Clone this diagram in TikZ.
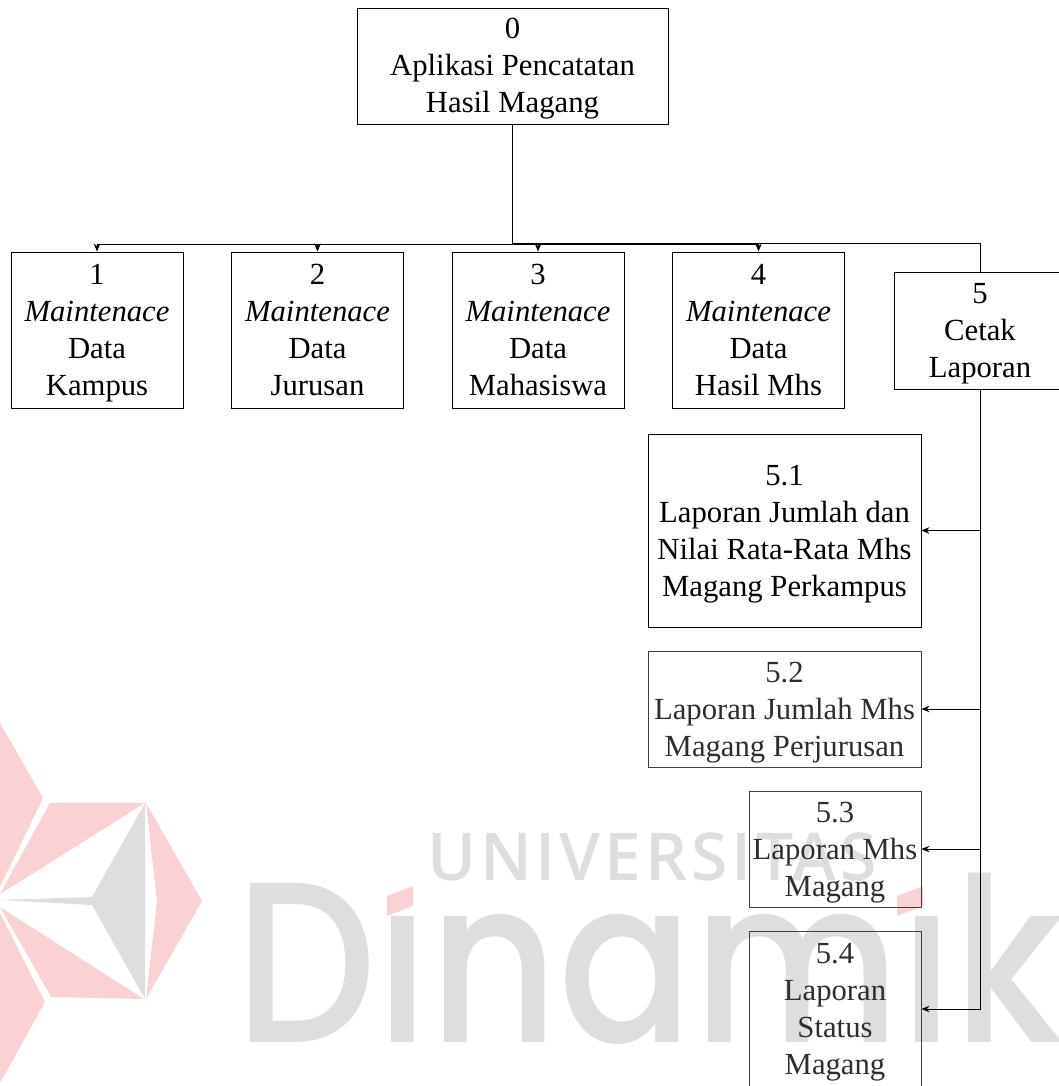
\documentclass[tikz,border=0pt]{standalone}
\usepackage{fontspec}
\setmainfont{Liberation Serif}
\newfontfamily\markfont[FakeStretch=0.87]{Poppins Medium}
\newfontfamily\subfont[LetterSpace=6]{Open Sans Semibold}
\definecolor{markgray}{HTML}{DEDEDE}
\definecolor{markpink}{HTML}{FAD2D4}
\usetikzlibrary{arrows.meta}
\newcommand{\linestrut}{\rule[-8.5pt]{0pt}{37pt}}
\tikzset{
  box/.style={draw, line width=0.9pt, align=center, inner sep=0pt, font=\fontsize{30.7}{37}\selectfont},
  faded/.style={text=black!82, draw=black!75},
  link/.style={line width=0.9pt, -{Stealth[length=8pt,width=6.5pt]}},
  wm/.style={text=markgray, inner sep=0pt, anchor=base west}
}
\begin{document}
\begin{tikzpicture}[x=1pt,y=-1pt]
      \useasboundingbox (0,0) rectangle (1059,1086);
      % watermark
      \fill[markpink] (146,803) -- (202,901) -- (146,999) -- (157,901) -- cycle;
      \fill[markpink] (50,803) -- (145,803) -- (0,894) -- cycle;
      \fill[markpink] (51,997) -- (144,999) -- (0,907) -- cycle;
      \fill[markpink] (0,723) -- (43,798) -- (0,887) -- cycle;
      \fill[markpink] (0,913) -- (45,1002) -- (0,1083) -- cycle;
      \fill[markgray] (145,803) -- (145,999) -- (92,905) -- (0,900) -- (92,897) -- cycle;
      \node[wm, font=\markfont\fontsize{229}{229}\selectfont] (dinamika) at (235,1042) {D\char"0131 nam\char"0131 ka};
      \node[wm, font=\subfont\fontsize{66}{66}\selectfont] (universitas) at (427,880) {UNIVERSITAS};
      \fill[markpink] (387,896) -- (413,886) -- (413,906) -- (387,916) -- cycle;
      \fill[markpink] (897,896) -- (923,886) -- (923,906) -- (897,916) -- cycle;
      % boxes
      \node[box, minimum width=311pt, minimum height=116pt] (0) at (512.5,66) {\linestrut 0\\Aplikasi Pencatatan\\\linestrut Hasil Magang};
      \node[box, minimum width=172pt, minimum height=156pt] (1) at (97,330) {\linestrut 1\\\textit{Maintenace}\\Data\\\linestrut Kampus};
      \node[box, minimum width=172pt, minimum height=156pt] (2) at (317.5,330) {\linestrut 2\\\textit{Maintenace}\\Data\\\linestrut Jurusan};
      \node[box, minimum width=172pt, minimum height=156pt] (3) at (538,330) {\linestrut 3\\\textit{Maintenace}\\Data\\\linestrut Mahasiswa};
      \node[box, minimum width=172pt, minimum height=156pt] (4) at (758.5,330) {\linestrut 4\\\textit{Maintenace}\\Data\\\linestrut Hasil Mhs};
      \node[box, minimum width=172pt, minimum height=117pt] (5) at (980,330.5) {\linestrut 5\\Cetak\\\linestrut Laporan};
      \node[box, minimum width=273pt, minimum height=193pt] (51) at (784.5,530.5) {\linestrut 5.1\\Laporan Jumlah dan\\Nilai Rata-Rata Mhs\\\linestrut Magang Perkampus};
      \node[box, faded, minimum width=273pt, minimum height=116pt] (52) at (784.5,709) {\linestrut 5.2\\Laporan Jumlah Mhs\\\linestrut Magang Perjurusan};
      \node[box, faded, minimum width=172pt, minimum height=116pt] (53) at (835,849) {\linestrut 5.3\\Laporan Mhs\\\linestrut Magang};
      \node[box, faded, minimum width=172pt, minimum height=156pt] (54) at (835,1009) {\linestrut 5.4\\Laporan\\Status\\\linestrut Magang};
      \coordinate (hub) at (512.5,244.5);
      \coordinate (hub5) at (980,243);
      % links
      \draw[line width=0.9pt] (0.south) -- (hub) (0.south |- hub5) -- (hub5) -- (5.north);
      \foreach \dest in {1,2,3,4}
        \draw[link] (hub) -| (\dest.north);
      \foreach \dest in {51,52,53,54}
        \draw[link] (5.south) |- (\dest.east);
\end{tikzpicture}
\end{document}
